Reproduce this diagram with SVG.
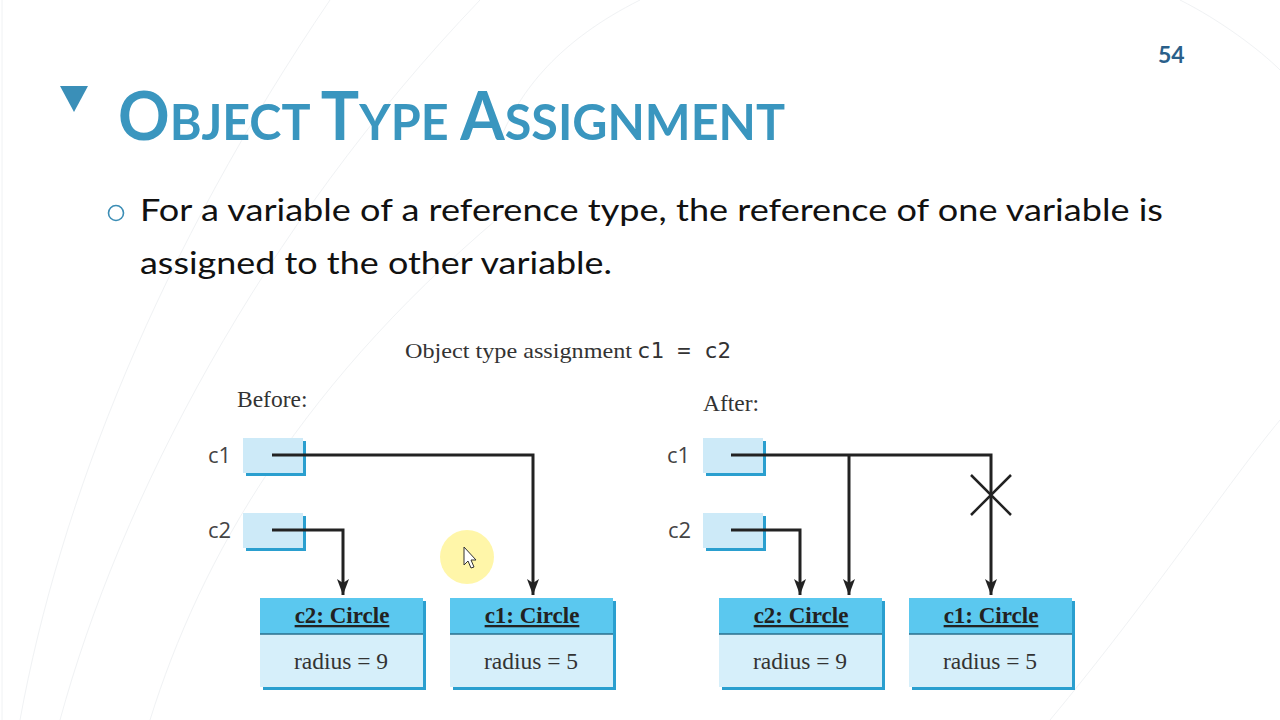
<svg xmlns="http://www.w3.org/2000/svg" width="1280" height="720" viewBox="0 0 1280 720">
<defs>
<style>
.title{font-family:"Lato","Open Sans",sans-serif;font-weight:bold;fill:#3a96bf}
.body{font-family:"Lato","Noto Sans",sans-serif;font-size:31px;fill:#111}
.serif{font-family:"Liberation Serif","DejaVu Serif",serif;fill:#333}
.mono{font-family:"DejaVu Sans Mono","Liberation Mono",monospace;fill:#333}
.var{font-family:"Open Sans","DejaVu Sans",sans-serif;font-size:22px;fill:#444}
.vbox{fill:#cdeaf8}
.shadow{fill:#2a9fcf}
.hdr{fill:#5bc8ef}
.bodyfill{fill:#d6effa}
.sep{stroke:#2a6f8c;stroke-width:1.5}
.cname{font-family:"Liberation Serif","DejaVu Serif",serif;font-weight:bold;font-size:23px;fill:#222;text-decoration:underline}
.attr{font-family:"Liberation Serif","DejaVu Serif",serif;font-size:23.5px;fill:#333}
.conn{fill:none;stroke:#222;stroke-width:3}
.bg{fill:none;stroke:#f0f2f4;stroke-width:1}
</style>
<marker id="arr" viewBox="0 0 16 12" refX="16" refY="6" markerWidth="16" markerHeight="12" markerUnits="userSpaceOnUse" orient="auto">
<path d="M0,0 L16,6 L0,12 L4,6 Z" fill="#222"/>
</marker>
</defs>
<rect width="1280" height="720" fill="#ffffff"/>
<g id="background">
<path class="bg" d="M20,720 C60,500 160,250 330,0"/>
<path class="bg" d="M60,720 C120,500 260,230 480,0"/>
<path class="bg" d="M150,720 C200,560 300,380 520,200"/>
<path class="bg" d="M640,0 C560,40 520,90 500,140"/>
<path class="bg" d="M1180,0 C1220,20 1260,50 1280,70"/>
<path class="bg" d="M1050,720 C1150,600 1230,480 1280,420"/>
<path class="bg" d="M2,0 L2,720"/>
</g>
<g id="header">
<polygon points="60,86 88,86 74,112" fill="#3a8fb8"/>
<text class="title" x="118" y="140" textLength="667" lengthAdjust="spacingAndGlyphs"><tspan font-size="66">O</tspan><tspan font-size="50">BJECT </tspan><tspan font-size="66">T</tspan><tspan font-size="50">YPE </tspan><tspan font-size="66">A</tspan><tspan font-size="50">SSIGNMENT</tspan></text>
<text x="1158" y="63" font-family="Lato,'Open Sans',sans-serif" font-weight="bold" font-size="23" fill="#2a5f8a">54</text>
</g>
<g id="bullet">
<circle cx="116" cy="213" r="7.5" fill="none" stroke="#3b8db5" stroke-width="1.6"/>
<text class="body" x="140" y="221" textLength="1023" lengthAdjust="spacingAndGlyphs">For a variable of a reference type, the reference of one variable is</text>
<text class="body" x="140" y="274" textLength="472" lengthAdjust="spacingAndGlyphs">assigned to the other variable.</text>
</g>
<g id="caption">
<text class="serif" x="405" y="358" font-size="22" textLength="227" lengthAdjust="spacingAndGlyphs">Object type assignment</text>
<text class="mono" x="637" y="358" font-size="22" textLength="94" lengthAdjust="spacingAndGlyphs">c1 = c2</text>
</g>
<text class="serif" x="237" y="407" font-size="23.5">Before:</text>
<text class="serif" x="703" y="411" font-size="23.5">After:</text>

<g id="before-c1-var">
<text class="var" x="208" y="463">c1</text>
<rect class="shadow" x="246" y="441" width="60" height="35"/>
<rect class="vbox" x="243" y="438" width="60" height="35"/>
</g>
<g id="before-c2-var">
<text class="var" x="208" y="538">c2</text>
<rect class="shadow" x="246" y="516" width="60" height="35"/>
<rect class="vbox" x="243" y="513" width="60" height="35"/>
</g>
<g id="before-c2-circle">
<rect class="shadow" x="263" y="601" width="163" height="89"/>
<rect class="hdr" x="260" y="598" width="163" height="36"/>
<rect class="bodyfill" x="260" y="634" width="163" height="53"/>
<line class="sep" x1="260" y1="634" x2="423" y2="634"/>
<text class="cname" x="342" y="623" text-anchor="middle">c2: Circle</text>
<text class="attr" x="341" y="669" text-anchor="middle">radius = 9</text>
</g>
<g id="before-c1-circle">
<rect class="shadow" x="453" y="601" width="163" height="89"/>
<rect class="hdr" x="450" y="598" width="163" height="36"/>
<rect class="bodyfill" x="450" y="634" width="163" height="53"/>
<line class="sep" x1="450" y1="634" x2="613" y2="634"/>
<text class="cname" x="532" y="623" text-anchor="middle">c1: Circle</text>
<text class="attr" x="531" y="669" text-anchor="middle">radius = 5</text>
</g>

<g id="after-c1-var">
<text class="var" x="667" y="463">c1</text>
<rect class="shadow" x="706" y="441" width="60" height="35"/>
<rect class="vbox" x="703" y="438" width="60" height="35"/>
</g>
<g id="after-c2-var">
<text class="var" x="668" y="538">c2</text>
<rect class="shadow" x="706" y="516" width="60" height="35"/>
<rect class="vbox" x="703" y="513" width="60" height="35"/>
</g>
<g id="after-c2-circle">
<rect class="shadow" x="722" y="601" width="163" height="89"/>
<rect class="hdr" x="719" y="598" width="163" height="36"/>
<rect class="bodyfill" x="719" y="634" width="163" height="53"/>
<line class="sep" x1="719" y1="634" x2="882" y2="634"/>
<text class="cname" x="801" y="623" text-anchor="middle">c2: Circle</text>
<text class="attr" x="800" y="669" text-anchor="middle">radius = 9</text>
</g>
<g id="after-c1-circle">
<rect class="shadow" x="912" y="601" width="163" height="89"/>
<rect class="hdr" x="909" y="598" width="163" height="36"/>
<rect class="bodyfill" x="909" y="634" width="163" height="53"/>
<line class="sep" x1="909" y1="634" x2="1072" y2="634"/>
<text class="cname" x="991" y="623" text-anchor="middle">c1: Circle</text>
<text class="attr" x="990" y="669" text-anchor="middle">radius = 5</text>
</g>

<g id="connectors">
<path class="conn" d="M272,455 H533 V595" marker-end="url(#arr)"/>
<path class="conn" d="M272,530 H343 V595" marker-end="url(#arr)"/>
<path class="conn" d="M731,455 H991 V595" marker-end="url(#arr)"/>
<path class="conn" d="M849,455 V595" marker-end="url(#arr)"/>
<path class="conn" d="M731,530 H800 V595" marker-end="url(#arr)"/>
<path d="M971,475 L1011,515 M1011,475 L971,515" stroke="#222" stroke-width="2.5" fill="none"/>
</g>

<g id="pointer">
<circle cx="467" cy="557" r="27" fill="#fff59a" opacity="0.85"/>
<path d="M464,547 L464,565 L468,561 L471,568 L474,567 L471,560 L476,560 Z" fill="#fff" stroke="#333" stroke-width="1"/>
</g>
</svg>
